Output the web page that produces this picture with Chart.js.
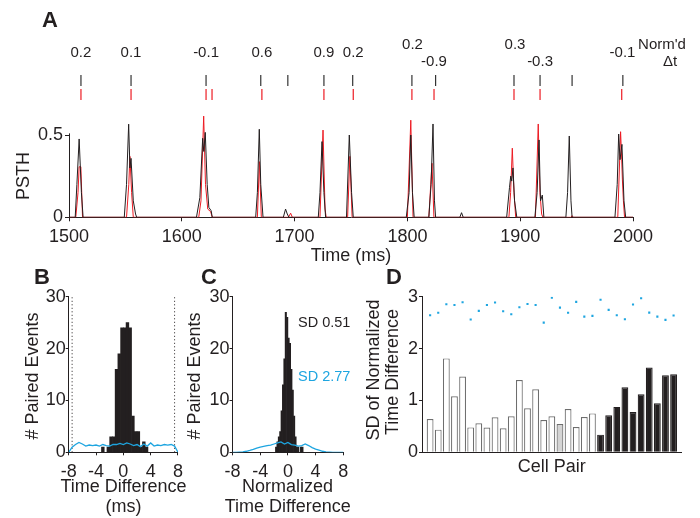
<!DOCTYPE html>
<html>
<head>
<meta charset="utf-8">
<script src="https://cdn.jsdelivr.net/npm/chart.js@4.4.0/dist/chart.umd.min.js"></script>
<style>
html, body { margin: 0; padding: 0; background: #fff; }
#wrap { position: relative; width: 700px; height: 518px; }
#wrap canvas { position: absolute; left: 0; top: 0; }
</style>
</head>
<body>
<div id="wrap">
  <canvas id="cA" width="700" height="518"></canvas>
  <canvas id="cB" width="700" height="518"></canvas>
  <canvas id="cC" width="700" height="518"></canvas>
  <canvas id="cD" width="700" height="518"></canvas>
</div>
<script>
// ---- panel A: spike rasters + PSTH ----
var blackSpikes = [1510.6, 1555, 1621.5, 1670, 1694, 1726, 1751.5, 1804, 1825, 1894.5, 1917.6, 1946, 1991];
var redSpikes = [1510.6, 1555, 1621.5, 1626.8, 1671, 1726, 1752, 1804, 1823.6, 1894.5, 1917.6, 1990];

var normLabels = ['0.2', '0.1', '-0.1', '0.6', '0.9', '0.2', '0.2', '-0.9', '0.3', '-0.3', '-0.1'];
var normLabelTimes = [1510.6, 1555, 1621.5, 1671, 1726, 1752, 1804.5, 1823.6, 1895.4, 1917.6, 1990.7];
var normLabelLevels = [1.0, 1.0, 1.0, 1.0, 1.0, 1.0, 1.05, 0.945, 1.05, 0.945, 1.0];

// [time ms, PSTH]
var psthBlack = [
  [1500, 0],
  [1505.5, 0], [1507, 0.2], [1509, 0.476], [1511, 0.15], [1512.5, 0],
  [1549, 0], [1551, 0.2], [1552.9, 0.566], [1554, 0.3], [1555, 0.358], [1557, 0.1], [1559, 0.02], [1560, 0],
  [1613, 0], [1616, 0.12], [1618.5, 0.48], [1619.5, 0.4], [1620.8, 0.516], [1622.5, 0.2], [1624, 0.06], [1626, 0.04], [1627, 0],
  [1665.5, 0], [1667, 0.15], [1668.7, 0.535], [1670, 0.2], [1672, 0],
  [1690, 0], [1692, 0.05], [1693.5, 0.02], [1695, 0],
  [1721, 0], [1722.5, 0.15], [1724.3, 0.46], [1726, 0.15], [1727.5, 0],
  [1746, 0], [1748.5, 0.5], [1750.5, 0.15], [1752, 0],
  [1799, 0], [1801.5, 0.15], [1803, 0.5], [1804.5, 0.15], [1806, 0],
  [1819, 0], [1821, 0.2], [1822.7, 0.567], [1824, 0.1], [1825, 0],
  [1846.5, 0], [1848, 0.028], [1849.5, 0],
  [1888, 0], [1890.5, 0.18], [1891.6, 0.25], [1892.5, 0.22], [1893.6, 0.3], [1895, 0.1], [1897, 0],
  [1913, 0], [1915, 0.15], [1916.7, 0.47], [1918, 0.1], [1919.6, 0.135], [1921, 0],
  [1940.5, 0], [1942, 0.15], [1943.5, 0.494], [1945, 0.1], [1946, 0],
  [1984, 0], [1986, 0.2], [1987.3, 0.506], [1988.5, 0.35], [1990.2, 0.443], [1992, 0.1], [1993.5, 0],
  [2000, 0]
];
var psthRed = [
  [1500, 0],
  [1506, 0], [1508, 0.15], [1509, 0.307], [1510.5, 0.307], [1512, 0],
  [1551, 0], [1553, 0.2], [1554, 0.37], [1555.5, 0.15], [1557, 0],
  [1615, 0], [1617, 0.1], [1619.4, 0.615], [1621, 0.2], [1623, 0.05], [1625.6, 0.034], [1627, 0],
  [1667, 0], [1668.8, 0.338], [1670.5, 0],
  [1694.5, 0], [1696.5, 0.025], [1698, 0],
  [1722.5, 0], [1725.2, 0.53], [1727, 0.05], [1728, 0],
  [1747, 0], [1749, 0.37], [1751, 0],
  [1800, 0], [1803, 0.59], [1805, 0],
  [1819, 0], [1821.8, 0.328], [1823.5, 0],
  [1890, 0], [1891.5, 0.15], [1893, 0.42], [1894.5, 0.15], [1896, 0],
  [1913.5, 0], [1916, 0.567], [1917.5, 0.15], [1919, 0.02], [1920, 0],
  [1945, 0], [1946, 0.01], [1947, 0],
  [1986.5, 0], [1989, 0.52], [1990, 0.35], [1990.6, 0.227], [1991.5, 0.1], [1992.5, 0],
  [2000, 0]
];

// ---- panel B: time difference histogram (ms) ----
var bBins = [-3.0, -2.6, -2.2, -1.8, -1.4, -1.0, -0.6, -0.2, 0.2, 0.6, 1.0, 1.4, 1.8, 2.2, 2.6, 3.0, 3.4];
var bCounts = [1, 0, 1, 3, 3, 16, 19, 24, 24, 25, 24, 7, 4, 4, 1, 2, 1];
var bShuffX = [-8, -7.5, -7, -6.5, -6, -5.5, -5, -4.5, -4, -3.5, -3, -2.5, -2, -1.5, -1, -0.5, 0,
               0.5, 1, 1.5, 2, 2.5, 3, 3.5, 4, 4.5, 5, 5.5, 6, 6.5, 7, 7.5, 8];
var bShuffY = [0, 1.0, 1.5, 1.9, 1.6, 1.2, 1.4, 1.3, 1.4, 1.2, 1.5, 1.3, 1.2, 1.5, 1.5, 1.7, 1.5,
               1.8, 1.6, 1.3, 1.5, 1.1, 1.6, 1.2, 1.8, 1.2, 1.4, 1.3, 1.5, 1.4, 1.5, 1.2, 0];
var bWindow = [-7.5, 7.5];

// ---- panel C: normalized time difference histogram ----
var cBins = [-1.7, -1.5, -1.3, -1.1, -0.9, -0.7, -0.5, -0.3, -0.1, 0.1, 0.3, 0.5, 0.7, 0.9, 1.1, 1.3, 1.5, 1.7, 1.9, 2.1];
var cCounts = [1, 2, 3, 4, 8, 13, 18, 27, 26, 22, 21, 16, 12, 7, 3, 1, 1, 0, 1, 1];
var cShuffX = bShuffX;
var cShuffY = [0, 0, 0.05, 0.1, 0.2, 0.35, 0.55, 0.8, 1.0, 1.15, 1.3, 1.4, 1.6, 1.8, 2.0, 1.6, 1.9,
               1.5, 1.4, 1.2, 1.3, 1.6, 1.3, 0.9, 0.6, 0.4, 0.2, 0.1, 0.05, 0, 0, 0, 0];
var cSD = ['SD 0.51', 'SD 2.77'];

// ---- panel D: SD per cell pair ----
var dPairs = [1, 2, 3, 4, 5, 6, 7, 8, 9, 10, 11, 12, 13, 14, 15, 16, 17, 18, 19, 20, 21, 22, 23, 24, 25, 26, 27, 28, 29, 30, 31];
var dSD = [0.643, 0.437, 1.81, 1.08, 1.46, 0.48, 0.56, 0.476, 0.675, 0.463, 0.695, 1.395, 0.85, 1.215, 0.624, 0.695,
           0.547, 0.836, 0.489, 0.68, 0.75, 0.34, 0.714, 0.875, 1.254, 0.778, 1.12, 1.633, 0.945, 1.486, 1.505];
var dShuffled = [2.643, 2.69, 2.855, 2.84, 2.894, 2.56, 2.727, 2.84, 2.887, 2.72, 2.662, 2.797, 2.86, 2.84, 2.5, 2.98,
                 2.79, 2.69, 2.9, 2.617, 2.63, 2.94, 2.746, 2.643, 2.566, 2.85, 2.97, 2.694, 2.617, 2.553, 2.637];
var dGroup = ['o','o','o','o','o','o','o','o','o','o','o','o','o','o','o','o','g','o','o','o','o',
              'f','f','f','f','f','f','f','f','f','f'];

var INK = '#231f20', RED = '#ed1c24', BLUE = '#1ea5e0';
var FONT = '"Liberation Sans", Arial, Helvetica, sans-serif';
Chart.defaults.font.family = FONT;
Chart.defaults.font.size = 18;
Chart.defaults.color = INK;

function put(ctx, s, x, y, size, opt) {
  opt = opt || {};
  ctx.save();
  ctx.font = (opt.bold ? 'bold ' : '') + size + 'px ' + FONT;
  ctx.fillStyle = opt.color || INK;
  ctx.textAlign = opt.align || 'center';
  ctx.textBaseline = 'middle';
  ctx.translate(x, y);
  if (opt.rot) ctx.rotate(opt.rot);
  ctx.fillText(s, 0, 0);
  ctx.restore();
}

function pairs(xs, ys) {
  return xs.map(function(x, i) { return {x: x, y: ys[i]}; });
}

function axis(min, max) {
  return {
    type: 'linear', min: min, max: max, offset: false,
    grid: { display: true, drawOnChartArea: false, drawTicks: true, tickLength: 3, color: INK, offset: false },
    border: { display: true, color: INK, width: 1 },
    ticks: { color: INK, font: { size: 18 }, padding: 2, maxRotation: 0,
             callback: function(v) { return String(v); } }
  };
}

function base(pad) {
  return {
    responsive: false, animation: false, maintainAspectRatio: false,
    layout: { padding: pad },
    plugins: { legend: { display: false }, tooltip: { enabled: false } }
  };
}

// ---------- A ----------
var plugA = {
  id: 'plugA',
  afterDraw: function(chart) {
    var ctx = chart.ctx, xs = chart.scales.x, ys = chart.scales.y;
    ctx.save();
    ctx.strokeStyle = INK; ctx.lineWidth = 1;
    ctx.beginPath();
    ctx.moveTo(Math.round(xs.left - 0.5) + 0.5, ys.getPixelForValue(0));
    ctx.lineTo(Math.round(xs.left - 0.5) + 0.5, ys.getPixelForValue(0.51));
    ctx.stroke();
    ctx.restore();
    normLabels.forEach(function(s, i) {
      put(ctx, s, xs.getPixelForValue(normLabelTimes[i]), ys.getPixelForValue(normLabelLevels[i]), 15);
    });
    put(ctx, "Norm'd", 662, 45, 15);
    put(ctx, '\u0394t', 670, 62, 15);
    put(ctx, 'A', 50, 21, 22, { bold: true });
    put(ctx, 'PSTH', 24, 176, 18, { rot: -Math.PI / 2 });
    put(ctx, 'Time (ms)', 351, 256, 18);
  }
};

var axA = axis(1500, 2000);
axA.ticks.stepSize = 100;
axA.ticks.padding = 5;
axA.grid.tickLength = 4;
axA.afterFit = function(s) { s.height = 40; };
var ayA = axis(0, 1.2);
ayA.border = { display: false };
ayA.grid.tickLength = 4;
ayA.afterBuildTicks = function(s) { s.ticks = [{value: 0}, {value: 0.5}]; };
ayA.afterFit = function(s) { s.width = 69; };

var optA = base({ left: 0, right: 67, top: 19.8, bottom: 260.7 });
optA.scales = { x: axA, y: ayA };

new Chart(document.getElementById('cA'), {
  type: 'line',
  data: {
    datasets: [
      { data: psthBlack.map(function(p) { return {x: p[0], y: p[1]}; }), borderColor: INK, borderWidth: 1, pointRadius: 0, tension: 0 },
      { data: psthRed.map(function(p) { return {x: p[0], y: p[1]}; }), borderColor: RED, borderWidth: 1, pointRadius: 0, tension: 0 },
      { data: blackSpikes.map(function(t) { return {x: t, y: 0.831}; }), showLine: false,
        pointStyle: 'line', pointRotation: 90, pointRadius: 5.5, pointBorderColor: '#333', pointBorderWidth: 1.2 },
      { data: redSpikes.map(function(t) { return {x: t, y: 0.746}; }), showLine: false,
        pointStyle: 'line', pointRotation: 90, pointRadius: 5.5, pointBorderColor: RED, pointBorderWidth: 1.2 }
    ]
  },
  options: optA,
  plugins: [plugA]
});

// ---------- B ----------
var plugB = {
  id: 'plugB',
  afterDraw: function(chart) {
    var ctx = chart.ctx;
    put(ctx, 'B', 42, 278, 22, { bold: true });
    put(ctx, '# Paired Events', 33, 376, 18, { rot: -Math.PI / 2 });
    put(ctx, 'Time Difference', 123.5, 487, 18);
    put(ctx, '(ms)', 123.5, 507, 18);
  }
};
var axB = axis(-8, 8);
axB.ticks.stepSize = 4;
axB.ticks.padding = 6;
axB.afterFit = function(s) { s.height = 30; };
var ayB = axis(0, 30);
ayB.ticks.stepSize = 10;
ayB.ticks.padding = 0;
ayB.afterFit = function(s) { s.width = 68.7; };
var optB = base({ left: 0, right: 522, top: 296.7, bottom: 35.7 });
optB.scales = { x: axB, y: ayB };

new Chart(document.getElementById('cB'), {
  type: 'line',
  data: {
    datasets: [
      { data: pairs(bShuffX, bShuffY), borderColor: BLUE, borderWidth: 1.3, pointRadius: 0, tension: 0 },
      { data: [{x: bWindow[0], y: 0}, {x: bWindow[0], y: 30}], borderColor: INK, borderWidth: 1, borderDash: [1, 2.5], pointRadius: 0 },
      { data: [{x: bWindow[1], y: 0}, {x: bWindow[1], y: 30}], borderColor: INK, borderWidth: 1, borderDash: [1, 2.5], pointRadius: 0 },
      { type: 'bar', data: pairs(bBins, bCounts), backgroundColor: INK, borderWidth: 0,
        barPercentage: 1, categoryPercentage: 1 }
    ]
  },
  options: optB,
  plugins: [plugB]
});

// ---------- C ----------
var plugC = {
  id: 'plugC',
  afterDraw: function(chart) {
    var ctx = chart.ctx, xs = chart.scales.x, ys = chart.scales.y;
    put(ctx, 'C', 209, 278, 22, { bold: true });
    put(ctx, '# Paired Events', 195, 376, 18, { rot: -Math.PI / 2 });
    put(ctx, 'Normalized', 287.5, 487, 18);
    put(ctx, 'Time Difference', 287.7, 507.5, 18);
    put(ctx, cSD[0], xs.getPixelForValue(5.24), ys.getPixelForValue(24.9), 14.5);
    put(ctx, cSD[1], xs.getPixelForValue(5.24), ys.getPixelForValue(14.6), 14.5, { color: BLUE });
  }
};
var axC = axis(-8, 8);
axC.ticks.stepSize = 4;
axC.ticks.padding = 6;
axC.afterFit = function(s) { s.height = 30; };
var ayC = axis(0, 30);
ayC.ticks.stepSize = 10;
ayC.ticks.padding = 0;
ayC.afterFit = function(s) { s.width = 232.5; };
var optC = base({ left: 0, right: 356.7, top: 296.7, bottom: 35.7 });
optC.scales = { x: axC, y: ayC };

new Chart(document.getElementById('cC'), {
  type: 'line',
  data: {
    datasets: [
      { data: pairs(cShuffX, cShuffY), borderColor: BLUE, borderWidth: 1.3, pointRadius: 0, tension: 0 },
      { type: 'bar', data: pairs(cBins, cCounts), backgroundColor: INK, borderWidth: 0,
        barPercentage: 1, categoryPercentage: 1 }
    ]
  },
  options: optC,
  plugins: [plugC]
});

// ---------- D ----------
var plugD = {
  id: 'plugD',
  afterDraw: function(chart) {
    var ctx = chart.ctx;
    put(ctx, 'D', 394, 278, 22, { bold: true });
    put(ctx, 'SD of Normalized', 374, 370, 18, { rot: -Math.PI / 2 });
    put(ctx, 'Time Difference', 393.5, 372, 18, { rot: -Math.PI / 2 });
    put(ctx, 'Cell Pair', 551.7, 467, 18);
  }
};
var axD = axis(0, 32);
axD.ticks = { display: false, stepSize: 4 };
axD.grid = { display: false };
axD.afterFit = function(s) { s.height = 30; };
var ayD = axis(0, 3);
ayD.ticks.stepSize = 1;
ayD.ticks.padding = 1;
ayD.afterFit = function(s) { s.width = 422; };
var optD = base({ left: 0, right: 18.3, top: 296.7, bottom: 35.7 });
optD.scales = { x: axD, y: ayD };

var fillFor = { o: '#ffffff', g: '#d4d4d4', f: INK };
var edgeFor = { o: '#6e6e6e', g: '#6e6e6e', f: INK };

new Chart(document.getElementById('cD'), {
  type: 'line',
  data: {
    datasets: [
      { data: pairs(dPairs, dShuffled), showLine: false, pointStyle: 'rect', pointRadius: 1.5,
        pointBackgroundColor: BLUE, pointBorderWidth: 0 },
      { type: 'bar', data: pairs(dPairs, dSD),
        backgroundColor: dGroup.map(function(g) { return fillFor[g]; }),
        borderColor: dGroup.map(function(g) { return edgeFor[g]; }),
        borderWidth: 1.2, barPercentage: 0.84, categoryPercentage: 1 }
    ]
  },
  options: optD,
  plugins: [plugD]
});
</script>
</body>
</html>
